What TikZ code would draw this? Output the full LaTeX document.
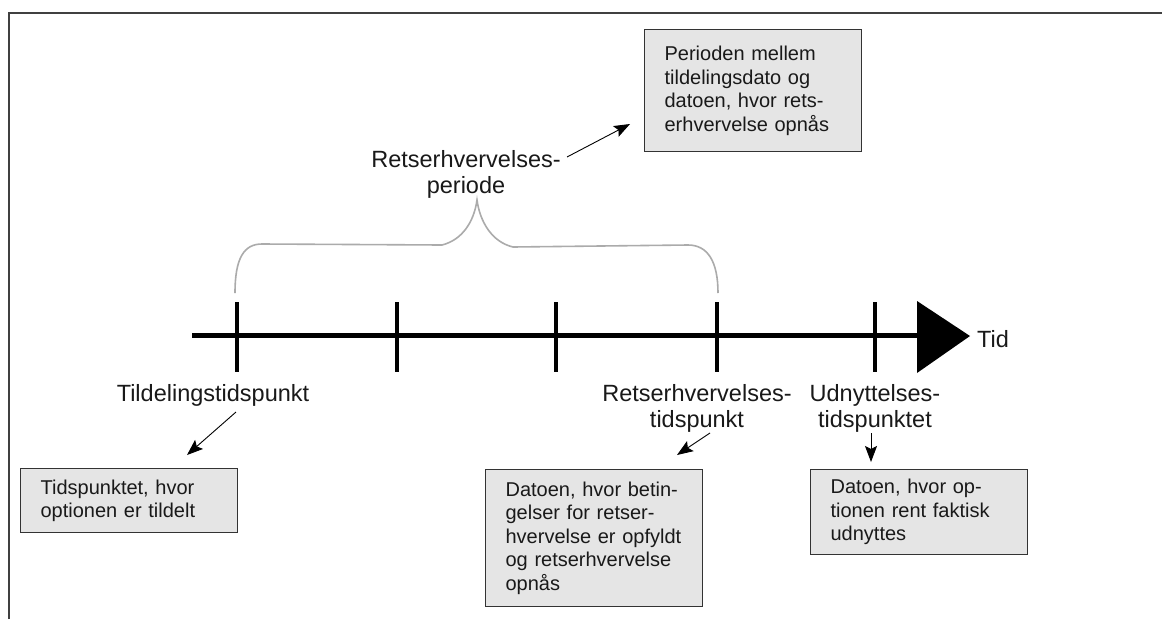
\documentclass[tikz,border=0pt]{standalone}
\usepackage{fontspec}
\setmainfont{Liberation Sans}
\usetikzlibrary{arrows.meta}
\newcommand\boxfnt{\fontsize{20}{23.5}\selectfont}
\begin{document}
\begin{tikzpicture}[x=1pt,y=-1pt,
  lbl/.style={font=\fontsize{23.5}{25.5}\selectfont, align=center, text=black!90, inner sep=0pt},
  infobox/.style={draw=black!80, line width=1.2pt, fill=black!10, text=black!90,
    font=\boxfnt, align=left, inner xsep=20pt, inner ysep=0pt,
    anchor=north west, minimum width=217pt, text width=177pt},
  tickmark/.style={line width=4.5pt},
  callout/.style={line width=0.9pt, -{Stealth[length=16pt,width=12pt,inset=3pt]}},
  bracestyle/.style={draw=black!33, line width=1.6pt}
]
\useasboundingbox (0,0) rectangle (1162,619);
\fill[white] (0,0) rectangle (1162,619);
% frame
\draw[black!75, line width=2pt] (9,619) -- (9,13) -- (1162,13);

% time axis
\coordinate (axstart) at (192,335);
\coordinate (axend) at (919,335);
\draw[line width=5pt] (axstart) -- (axend);
\fill (917,301) -- (970,336) -- (917,373) -- cycle;
\foreach \x in {237,397,556,717,875} \draw[tickmark] (\x,302) -- (\x,372);

% brace
\draw[bracestyle] (235,293) .. controls (235,258) and (244,244) .. (262,244)
  -- (442,245) .. controls (462,240) and (474,222) .. (477,200)
  .. controls (480,222) and (492,242) .. (513,247)
  -- (688,245) .. controls (708,245) and (718,262) .. (718,293);

% labels (base = baseline of last line)
\node[lbl, anchor=base] (lper) at (466,193) {Retserhvervelses-\\periode};
\node[lbl, anchor=base] (ltil) at (213,401) {Tildelingstidspunkt};
\node[lbl, anchor=base] (lret) at (697,427) {Retserhvervelses-\\tidspunkt};
\node[lbl, anchor=base] (ludn) at (875,427) {Udnyttelses-\\tidspunktet};
\node[lbl, anchor=base west] (ltid) at (977,347) {Tid};

% boxes
\node[infobox, minimum height=122pt] (b1) at (644,29)
  {\boxfnt Perioden mellem\\tildelingsdato og\\datoen, hvor rets-\\erhvervelse opnås};
\node[infobox, minimum height=64pt] (b2) at (20,468)
  {\boxfnt Tidspunktet, hvor\\optionen er tildelt};
\node[infobox, minimum height=137pt] (b3) at (485,469)
  {\boxfnt Datoen, hvor betin-\\gelser for retser-\\hvervelse er opfyldt\\og retserhvervelse\\opnås};
\node[infobox, minimum height=85pt] (b4) at (810,469)
  {\boxfnt Datoen, hvor op-\\tionen rent faktisk\\udnyttes};

% callout arrows
\coordinate (c1s) at (567,157); \coordinate (c1e) at (630,124);
\coordinate (c2s) at (236,412); \coordinate (c2e) at (187,455);
\coordinate (c3s) at (710,433); \coordinate (c3e) at (677,455);
\coordinate (c4s) at (871,433); \coordinate (c4e) at (871,462);
\draw[callout] (c1s) -- (c1e);
\draw[callout] (c2s) -- (c2e);
\draw[callout] (c3s) -- (c3e);
\draw[callout] (c4s) -- (c4e);
\end{tikzpicture}
\end{document}
